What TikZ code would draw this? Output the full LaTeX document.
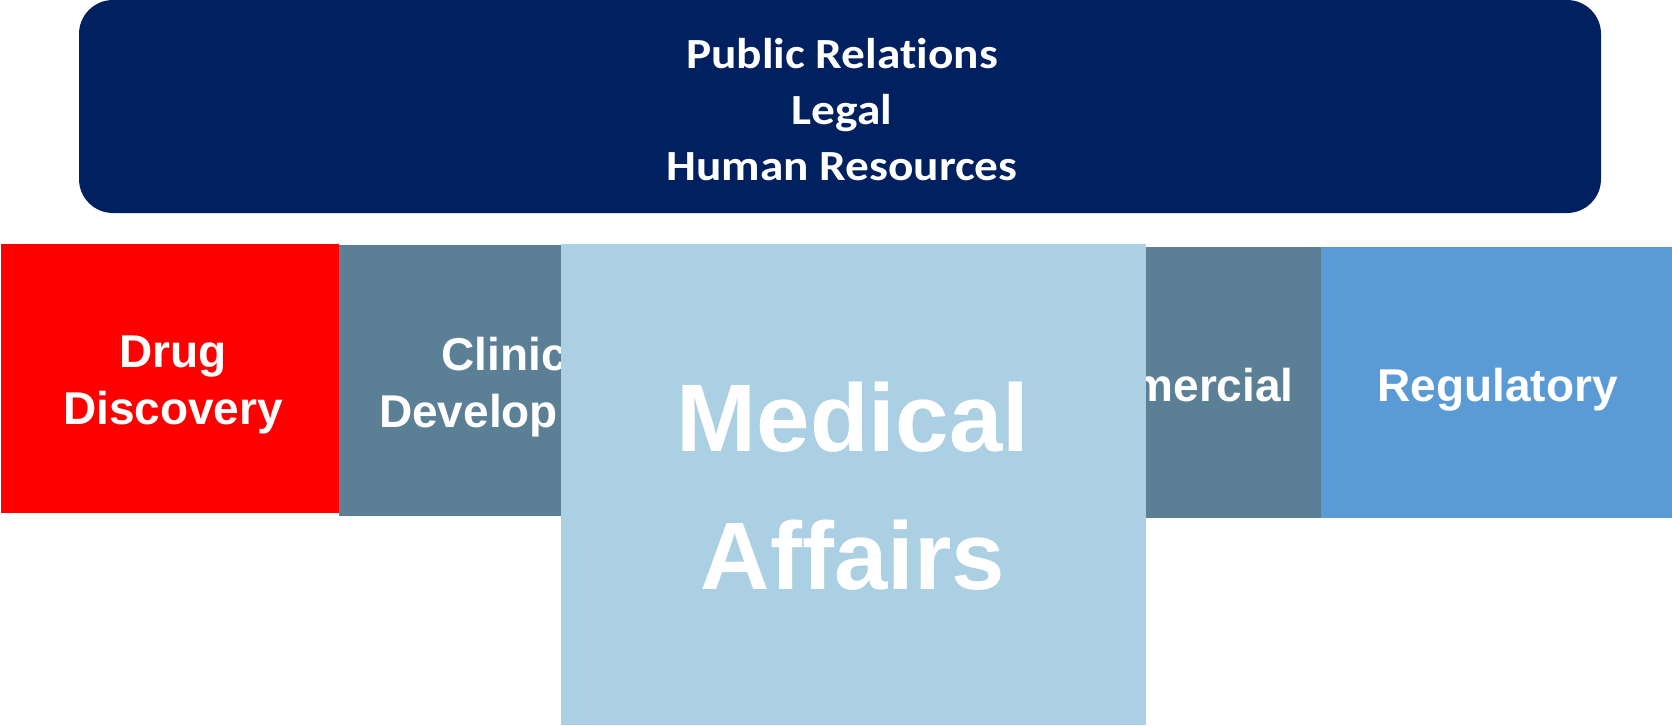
\documentclass[tikz,border=0pt]{standalone}
\usepackage{fontspec}
\setmainfont{Liberation Sans}
\newfontfamily\calfont{Carlito}[Ligatures=NoCommon, FakeStretch=1.1]
\definecolor{navy}{HTML}{002060}
\definecolor{slate}{HTML}{5B7F95}
\definecolor{lightblue}{HTML}{ABCFE3}
\definecolor{regblue}{HTML}{5B9BD5}
\begin{document}
\begin{tikzpicture}[x=1pt,y=-1pt,
  box/.style={inner sep=0pt, outer sep=0pt, anchor=north west},
  lbl/.style={text=white, font=\fontsize{46}{56.5}\selectfont\bfseries, align=center, inner sep=0pt},
]
\useasboundingbox (0,0) rectangle (1672,725);
\fill[white] (0,0) rectangle (1672,725);
% top banner
\node[box, fill=navy, rounded corners=34pt, minimum width=1522pt, minimum height=213pt] (top) at (79,0) {};
\node[text=white, font=\calfont\fontsize{43}{56}\selectfont\bfseries, align=center, inner sep=0pt, anchor=base] (toptext) at (842,180) {Public Relations\\Legal\\Human Resources};
% function boxes
\node[box, fill=red, minimum width=338pt, minimum height=269pt] (drug) at (1,244) {};
\node[box, fill=slate, minimum width=222pt, minimum height=271pt] (clin) at (339,245) {};
\node[lbl, anchor=base] (clintext) at (523.5,427) {Clinical\\Development};
\node[box, fill=slate, minimum width=175pt, minimum height=271pt] (comm) at (1146,247) {};
\node[lbl, anchor=base] (commtext) at (1162,401) {Commercial};
\node[box, fill=regblue, minimum width=351pt, minimum height=271pt] (reg) at (1321,247) {};
\node[lbl, anchor=base] (regtext) at (1497.5,401) {Regulatory};
\node[lbl, anchor=base] (drugtext) at (173,424) {Drug\\Discovery};
% medical affairs on top
\node[box, fill=lightblue, minimum width=585pt, minimum height=481pt] (med) at (561,244) {};
\node[text=white, font=\fontsize{96}{138}\selectfont\bfseries, align=center, inner sep=0pt, anchor=base] (medtext) at (853,589) {Medical\\Affairs};
\end{tikzpicture}
\end{document}
